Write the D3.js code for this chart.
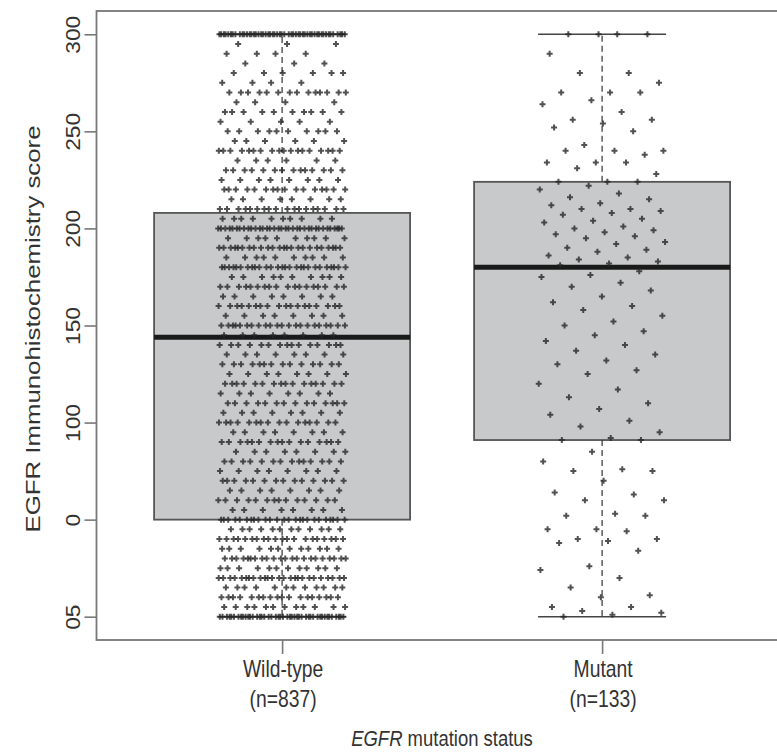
<!DOCTYPE html>
<html>
<head>
<meta charset="utf-8">
<script src="https://cdn.jsdelivr.net/npm/d3@7"></script>
<style>
  body { margin: 0; background: #fff; }
  svg { display: block; font-family: "Liberation Sans", Arial, sans-serif; }
</style>
</head>
<body>
<script>
const categories = ['Wild-type', 'Mutant'];
const groupSizes = [837, 133];

const tickValues = [300, 250, 200, 150, 100, 50, 0];
const tickLabels = ['300', '250', '200', '150', '100', '0', '05'];

// lower whisker, Q1, median, Q3, upper whisker
const wildStats = [0, 50, 144, 208, 300];
const mutantStats = [0, 91, 180, 224, 300];

// wild-type scores come in steps of 5, counted per level
const wildScores = [
  0, 5, 10, 15, 20, 25, 30, 35, 40, 45, 50,
  55, 60, 65, 70, 75, 80, 85, 90, 95, 100, 105, 110, 115, 120, 125, 130, 135, 140,
  145, 150, 155, 160, 165, 170, 175, 180, 185, 190, 195, 200, 205,
  210, 215, 220, 225, 230, 235, 240, 245, 250, 255, 260, 265, 270, 275, 280, 285, 290, 295, 300
];
const wildCounts = [
  45, 12, 18, 12, 25, 12, 22, 12, 20, 12, 25,
  8, 14, 8, 14, 8, 14, 8, 16, 8, 16, 8, 14, 8, 16, 8, 14, 8, 15,
  8, 22, 8, 18, 8, 18, 10, 27, 10, 24, 10, 35, 10,
  18, 8, 16, 8, 14, 6, 18, 6, 10, 5, 10, 4, 14, 4, 6, 3, 4, 3, 52
];

const mutantScores = [
  300, 300, 300, 300, 290, 280, 280, 275, 270, 270, 270, 266, 264, 260, 256, 256,
  254, 252, 250, 243, 240, 240, 240, 238, 234, 234, 234, 231, 228, 224, 224, 224,
  222, 220, 218, 216, 215, 213, 212, 210, 210, 209, 208, 207, 205, 204, 203, 201,
  200, 199, 198, 197, 196, 195, 193, 192, 190, 189, 188, 186, 185, 184, 183, 182, 181,
  178, 176, 175, 172, 170, 168, 165, 162, 160, 158, 155, 152, 150, 147, 145, 142,
  140, 137, 135, 132, 130, 127, 125, 120, 117, 113, 110, 107, 104, 101, 98, 95, 92,
  91, 91, 85, 80, 76, 75, 75, 70, 64, 63, 60, 60, 53, 52, 52, 45, 45, 44, 40, 40,
  39, 38, 34, 26, 24, 20, 15, 11, 10, 5, 5, 3, 2, 1, 0
];

const chartWidth = 777;
const chartHeight = 752;
const textColor = '#333';

const svg = d3.select('body')
  .append('svg')
  .attr('width', chartWidth)
  .attr('height', chartHeight);

// R-style ranges: 0.5..2.5 and 0..300, each widened by 4%
const x = d3.scaleLinear().domain([0.42, 2.58]).range([96.5, 787.7]);
const y = d3.scaleLinear().domain([-12, 312]).range([640, 11]);

const boxHalf = 0.4;
const stapleHalf = 0.2;
const jitterHalf = 0.2;

const wildPoints = [];
wildScores.forEach((s, i) => {
  for (let k = 0; k < wildCounts[i]; k++) wildPoints.push(s);
});

const groups = [
  { name: categories[0], n: groupSizes[0], pos: 1, stats: wildStats, points: wildPoints },
  { name: categories[1], n: groupSizes[1], pos: 2, stats: mutantStats, points: mutantScores }
];

// even spread across the jitter band (golden ratio steps)
const spread = (i) => (((i + 1) * 0.6180339887) % 1) * 2 - 1;

const g = svg.selectAll('g.group')
  .data(groups)
  .enter()
  .append('g')
  .attr('class', 'group');

g.append('rect')
  .attr('x', (d) => x(d.pos - boxHalf))
  .attr('width', x(1 + boxHalf) - x(1 - boxHalf))
  .attr('y', (d) => y(d.stats[3]))
  .attr('height', (d) => y(d.stats[1]) - y(d.stats[3]))
  .attr('fill', '#c8c9cb')
  .attr('stroke', '#555')
  .attr('stroke-width', 1.8);

// whiskers
g.selectAll('line.whisker')
  .data((d) => [[d.pos, d.stats[3], d.stats[4]], [d.pos, d.stats[1], d.stats[0]]])
  .enter()
  .append('line')
  .attr('class', 'whisker')
  .attr('x1', (d) => x(d[0]))
  .attr('x2', (d) => x(d[0]))
  .attr('y1', (d) => y(d[1]))
  .attr('y2', (d) => y(d[2]))
  .attr('stroke', '#333')
  .attr('stroke-width', 1.2)
  .attr('stroke-dasharray', '6,4');

// staples
g.selectAll('line.staple')
  .data((d) => [[d.pos, d.stats[0]], [d.pos, d.stats[4]]])
  .enter()
  .append('line')
  .attr('class', 'staple')
  .attr('x1', (d) => x(d[0] - stapleHalf))
  .attr('x2', (d) => x(d[0] + stapleHalf))
  .attr('y1', (d) => y(d[1]))
  .attr('y2', (d) => y(d[1]))
  .attr('stroke', '#444')
  .attr('stroke-width', 1.6);

// median
g.append('line')
  .attr('x1', (d) => x(d.pos - boxHalf))
  .attr('x2', (d) => x(d.pos + boxHalf))
  .attr('y1', (d) => y(d.stats[2]))
  .attr('y2', (d) => y(d.stats[2]))
  .attr('stroke', '#1a1a1a')
  .attr('stroke-width', 5);

// jittered points
const sym = d3.symbol().type(d3.symbolCross).size(20);
g.selectAll('path.pt')
  .data((d) => d.points.map((v, i) => ({ pos: d.pos + spread(i) * jitterHalf, v: v })))
  .enter()
  .append('path')
  .attr('class', 'pt')
  .attr('d', sym)
  .attr('transform', (d) => 'translate(' + x(d.pos) + ',' + y(d.v) + ')')
  .attr('fill', '#262626')
  .attr('fill-opacity', 0.8);

// frame
svg.append('rect')
  .attr('x', x(0.42))
  .attr('y', y(312))
  .attr('width', x(2.58) - x(0.42))
  .attr('height', y(-12) - y(312))
  .attr('fill', 'none')
  .attr('stroke', '#777')
  .attr('stroke-width', 1.8);

// y axis
const yAxis = d3.axisLeft(y)
  .tickValues(tickValues)
  .tickFormat((d, i) => tickLabels[i])
  .tickSize(12);

const ya = svg.append('g')
  .attr('class', 'y axis')
  .attr('transform', 'translate(' + x(0.42) + ',0)')
  .call(yAxis);
ya.select('.domain').remove();
ya.selectAll('line').attr('stroke', '#777').attr('stroke-width', 1.6);
ya.selectAll('text')
  .attr('x', null)
  .attr('dy', null)
  .attr('text-anchor', 'middle')
  .attr('transform', 'translate(-16.5,0) rotate(-90) scale(1.08,1)')
  .attr('fill', textColor)
  .style('font-size', '21px')
  .style('font-family', null);

// x axis
const xAxis = d3.axisBottom(x)
  .tickValues(groups.map((d) => d.pos))
  .tickFormat('')
  .tickSize(14);

const xa = svg.append('g')
  .attr('class', 'x axis')
  .attr('transform', 'translate(0,' + y(-12) + ')')
  .call(xAxis);
xa.select('.domain').remove();
xa.selectAll('line').attr('stroke', '#777').attr('stroke-width', 1.6);

const label = (tx, ty, sx, sy, rot) => svg.append('text')
  .attr('transform', 'translate(' + tx + ',' + ty + ')' + (rot ? ' rotate(' + rot + ')' : '') + ' scale(' + sx + ',' + sy + ')')
  .attr('text-anchor', 'middle')
  .attr('fill', textColor);

groups.forEach((d) => {
  label(x(d.pos) + 1, 677, 0.84, 1).style('font-size', '23px').text(d.name);
  label(x(d.pos) + 1, 707, 0.84, 1).style('font-size', '23px').text('(n=' + d.n + ')');
});

const xTitle = label(442, 746, 0.84, 1).style('font-size', '22px');
xTitle.append('tspan').attr('font-style', 'italic').text('EGFR');
xTitle.append('tspan').text(' mutation status');

label(39.5, 329, 1.29, 1, -90).style('font-size', '20px').text('EGFR Immunohistochemistry score');
</script>
</body>
</html>
